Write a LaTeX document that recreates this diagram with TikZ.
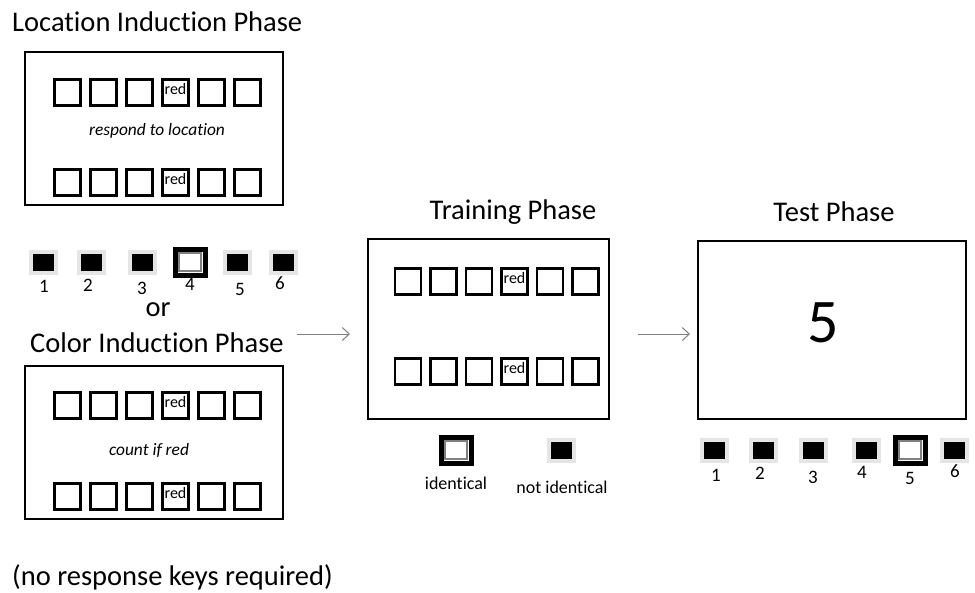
\documentclass[tikz,border=0pt]{standalone}
\usepackage{fontspec}
\setmainfont{Carlito}[Ligatures=NoCommon]
\usetikzlibrary{arrows.meta}
\usetikzlibrary{shadows}

\definecolor{keylight}{gray}{0.90}
\definecolor{keyshade}{gray}{0.72}

\begin{document}
\begin{tikzpicture}[x=1pt,y=-1pt,
  screen/.style={draw,line width=2.4pt,inner sep=0pt},
  slot/.style={draw,line width=2.8pt,minimum size=26pt,inner sep=0pt},
  redtag/.style={inner sep=0pt,font=\fontsize{16}{16}\selectfont},
  cue/.style={inner sep=0pt,font=\fontsize{17.4}{17.4}\selectfont\itshape},
  phase/.style={inner sep=0pt,font=\fontsize{28.5}{28.5}\selectfont},
  keynum/.style={inner sep=0pt,font=\fontsize{19}{19}\selectfont},
  keytext/.style={inner sep=0pt,font=\fontsize{18}{18}\selectfont},
  key/.style={fill=black,draw=keylight,line width=4pt,minimum width=25pt,minimum height=21pt,inner sep=0pt,
    general shadow={fill=keyshade,shadow xshift=1.5pt,shadow yshift=-1.5pt}},
  pressed/.style={fill=white,draw=black,line width=5pt,minimum width=30pt,minimum height=26pt,inner sep=0pt,
    path picture={\draw[gray,line width=1.2pt] ([shift={(4pt,-4pt)}]path picture bounding box.north west)
      rectangle ([shift={(-4pt,4pt)}]path picture bounding box.south east);}},
  flow/.style={gray,line width=1pt,-{Straight Barb[length=7pt,width=13pt]}}]

\useasboundingbox (0,0) rectangle (975,592);

% location induction
\node[phase,anchor=west] (lochd) at (12,22) {Location Induction Phase};
\node[screen,minimum width=258pt,minimum height=153pt] (loc) at (154,128.5) {};
\foreach \i in {1,...,6}{
  \node[slot] (lt\i) at ({31.5+36*\i},92.5) {};
  \node[slot] (lb\i) at ({31.5+36*\i},182.5) {};
}
\node[redtag] (ltred) at ([yshift=4pt]lt4.center) {red};
\node[redtag] (lbred) at ([yshift=4pt]lb4.center) {red};
\node[cue] (loccue) at (157,131) {respond to location};

\foreach \i/\x/\lx/\ly/\st in {1/43/44/286/key,2/91/88/285/key,3/142/142/288/key,4/190/190/284/pressed,5/237/240/289/key,6/283/280/283/key}{
  \node[\st] (lk\i) at (\x,262) {};
  \node[keynum] (ln\i) at (\lx,\ly) {\i};
}
\node[phase] (or) at (158,310) {or};

% color induction
\node[phase] (colhd) at (157,343) {Color Induction Phase};
\node[screen,minimum width=258pt,minimum height=153pt] (col) at (154,442.5) {};
\foreach \i in {1,...,6}{
  \node[slot] (ct\i) at ({31.5+36*\i},405.5) {};
  \node[slot] (cb\i) at ({31.5+36*\i},496.5) {};
}
\node[redtag] (ctred) at ([yshift=4pt]ct4.center) {red};
\node[redtag] (cbred) at ([yshift=4pt]cb4.center) {red};
\node[cue] (colcue) at (149,450) {count if red};
\node[phase,anchor=west] (nokeys) at (12,577) {(no response keys required)};

% training
\node[phase] (trainhd) at (513,212) {Training Phase};
\node[screen,minimum width=241pt,minimum height=180pt] (train) at (488.5,329) {};
\foreach \i in {1,...,6}{
  \node[slot] (tt\i) at ({372.5+35.5*\i},281.5) {};
  \node[slot] (tb\i) at ({372.5+35.5*\i},371.5) {};
}
\node[redtag] (ttred) at ([yshift=4pt]tt4.center) {red};
\node[redtag] (tbred) at ([yshift=4pt]tb4.center) {red};
\node[pressed] (same) at (456,450) {};
\node[keytext] (samelbl) at (456,483) {identical};
\node[key] (diff) at (561,450) {};
\node[keytext] (difflbl) at (562,487) {not identical};

% test
\node[phase] (testhd) at (834,212) {Test Phase};
\node[screen,minimum width=268pt,minimum height=178pt] (test) at (832,330) {};
\node[inner sep=0pt,font=\fontsize{62}{62}\selectfont] (probe) at (823,323) {5};
\foreach \i/\x/\lx/\ly/\st in {1/714/716/475/key,2/763/760/473/key,3/813/813/477/key,4/866/862/472/key,5/910/910/478/pressed,6/954/955/471/key}{
  \node[\st] (tk\i) at (\x,450) {};
  \node[keynum] (tn\i) at (\lx,\ly) {\i};
}

% arrows
\coordinate (a1s) at (297,334);
\coordinate (a1e) at (350,334);
\coordinate (a2s) at (638,334);
\coordinate (a2e) at (690,334);
\draw[flow] (a1s) -- (a1e);
\draw[flow] (a2s) -- (a2e);

\end{tikzpicture}
\end{document}
